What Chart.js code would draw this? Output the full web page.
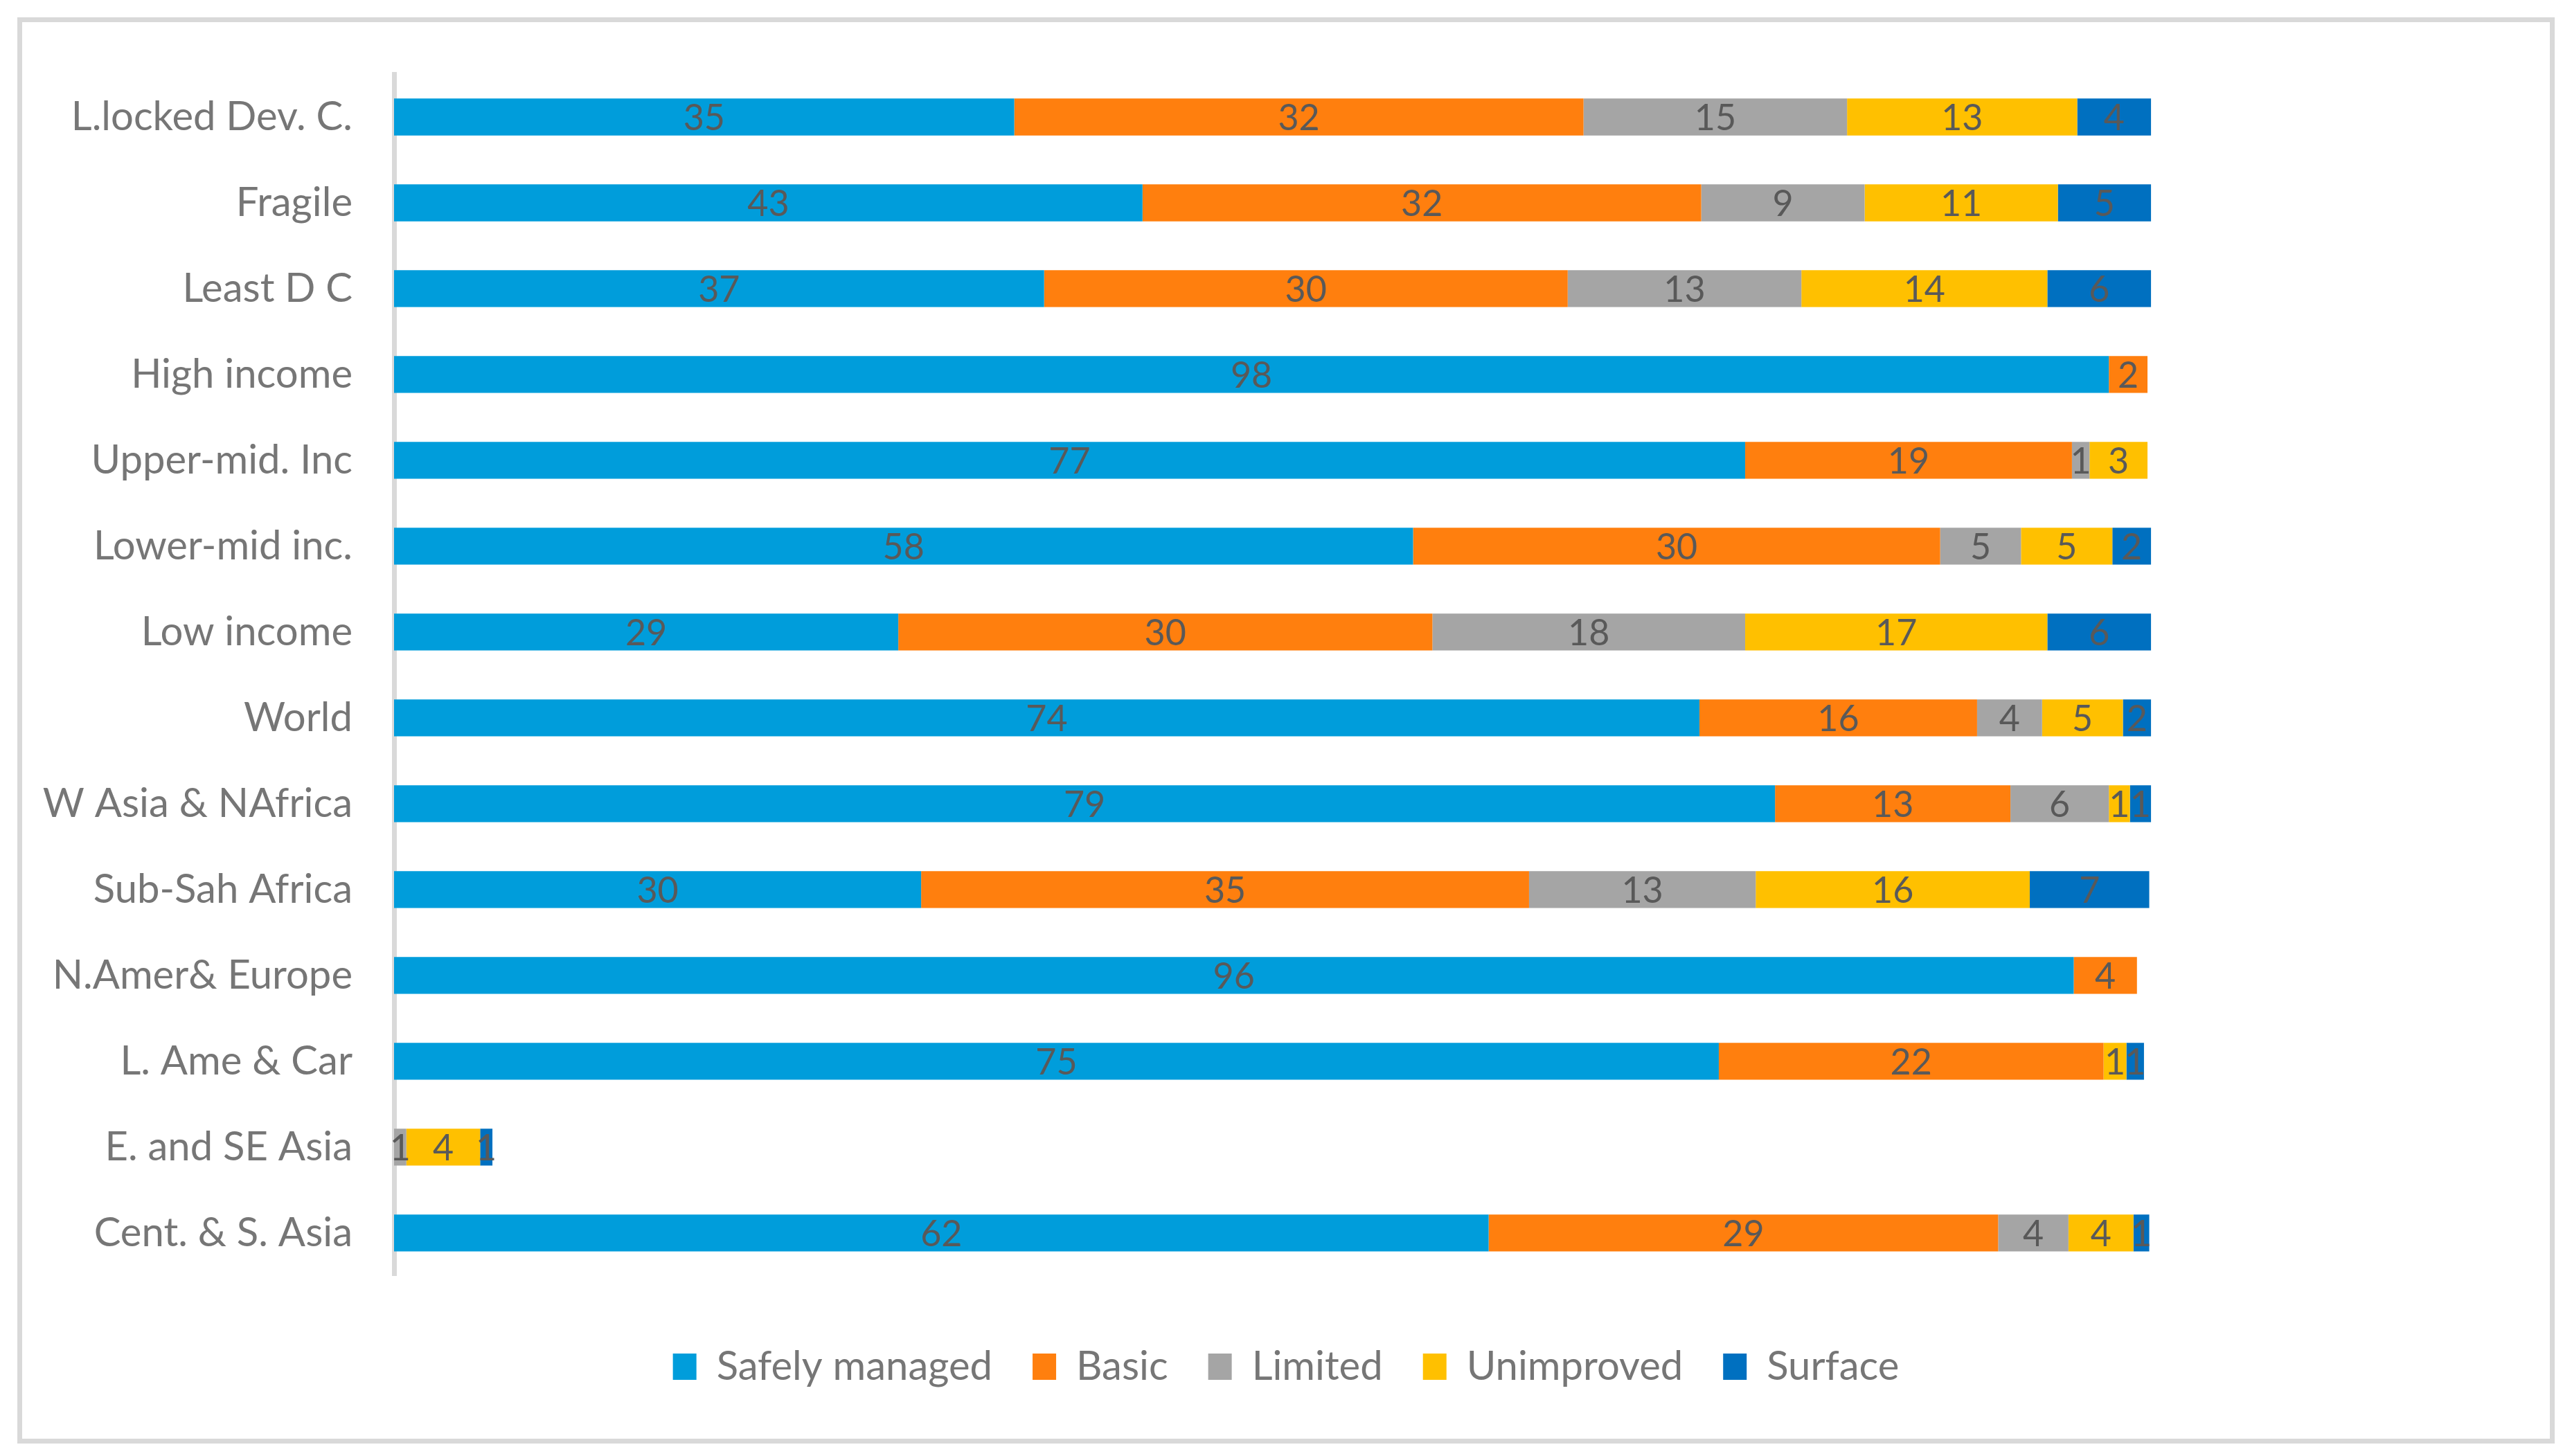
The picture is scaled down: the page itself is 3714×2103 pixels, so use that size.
<!DOCTYPE html>
<html>
<head>
<meta charset="utf-8">
<title>Drinking water service levels</title>
<script src="https://cdn.jsdelivr.net/npm/chart.js@4.4.1/dist/chart.umd.min.js"></script>
<style>
	html, body { margin: 0; padding: 0; background: #ffffff; }
	#frame {
		position: absolute; left: 25px; top: 25px;
		width: 3664px; height: 2060px;
		border: 7px solid #d9d9d9; box-sizing: border-box; background: #ffffff;
	}
	#waterChart { display: block; }
</style>
</head>
<body>
<div id="frame"><canvas id="waterChart" width="3650" height="2046"></canvas></div>
<script>
// regions / groups, top to bottom
var regions = ['L.locked Dev. C.', 'Fragile', 'Least D C', 'High income', 'Upper-mid. Inc',
	'Lower-mid inc.', 'Low income', 'World', 'W Asia & NAfrica', 'Sub-Sah Africa',
	'N.Amer& Europe', 'L. Ame & Car', 'E. and SE Asia', 'Cent. & S. Asia'];

// % of population by service level (labels show rounded values)
var safelyManaged = [35.3, 42.6, 37.0, 97.6, 76.9, 58.0, 28.7, 74.3, 78.6, 30.0, 95.6, 75.4, null, 62.3];
var basic = [32.4, 31.8, 29.8, 2.2, 18.6, 30.0, 30.4, 15.8, 13.4, 34.6, 3.6, 21.9, null, 29.0];
var limited = [15.0, 9.3, 13.3, null, 1.0, 4.6, 17.8, 3.7, 5.6, 12.9, null, null, 0.7, 4.0];
var unimproved = [13.1, 11.0, 14.0, null, 3.3, 5.2, 17.2, 4.6, 1.2, 15.6, null, 1.3, 4.2, 3.7];
var surface = [4.2, 5.3, 5.9, null, null, 2.2, 5.9, 1.6, 1.2, 6.8, null, 1.0, 0.7, 0.9];

var axisColor = '#767676';
var valueColor = '#595959';
var fontFamily = 'Lato, "Open Sans", sans-serif';
var axisFontSize = 58;
var valueFontSize = 52;

// draws the rounded value in the middle of every segment
var segmentLabels = {
	id : 'segmentLabels',
	afterDatasetsDraw : function(chart) {
		var ctx = chart.ctx;
		ctx.save();
		ctx.font = valueFontSize + 'px ' + fontFamily;
		ctx.fillStyle = valueColor;
		ctx.textAlign = 'center';
		ctx.textBaseline = 'middle';
		chart.data.datasets.forEach(function(ds, i) {
			var meta = chart.getDatasetMeta(i);
			if (meta.hidden) return;
			meta.data.forEach(function(bar, j) {
				var v = ds.data[j];
				if (v === null || v <= 0) return;
				var c = bar.getCenterPoint();
				ctx.fillText(Math.round(v), c.x, c.y + 2);
			});
		});
		ctx.restore();
	}
};

function series(label, data, color) {
	return {
		label : label,
		data : data,
		backgroundColor : color,
		borderWidth : 0,
		categoryPercentage : 1,
		barPercentage : 0.43
	};
}

new Chart(document.getElementById('waterChart'), {
	type : 'bar',
	data : {
		labels : regions,
		datasets : [
			series('Safely managed', safelyManaged, '#009DDB'),
			series('Basic', basic, '#FF7F0E'),
			series('Limited', limited, '#A5A5A5'),
			series('Unimproved', unimproved, '#FFC000'),
			series('Surface', surface, '#0070C0')
		]
	},
	options : {
		indexAxis : 'y',
		responsive : false,
		devicePixelRatio : 1,
		animation : false,
		layout : {
			padding : { top : 75, right : 0, left : 0, bottom : 65 }
		},
		scales : {
			x : {
				stacked : true,
				display : false,
				min : 0,
				max : 122.7
			},
			y : {
				stacked : true,
				grid : { display : false, drawTicks : false },
				border : { display : true, color : '#d9d9d9', width : 7 },
				ticks : {
					color : axisColor,
					padding : 60,
					font : { family : fontFamily, size : axisFontSize }
				},
				afterFit : function(scale) {
					scale.width = 537;
					// labels sit inside their bands, no extra room needed
					scale.paddingTop = 0;
					scale.paddingBottom = 0;
				}
			}
		},
		plugins : {
			legend : {
				position : 'bottom',
				title : { display : true, text : '', padding : { top : 43, bottom : 0 }, font : { size : 1 } },
				labels : {
					color : axisColor,
					boxWidth : 34,
					boxHeight : 38,
					padding : 58,
					font : { family : fontFamily, size : axisFontSize }
				}
			},
			tooltip : { enabled : false }
		}
	},
	plugins : [ segmentLabels ]
});
</script>
</body>
</html>
